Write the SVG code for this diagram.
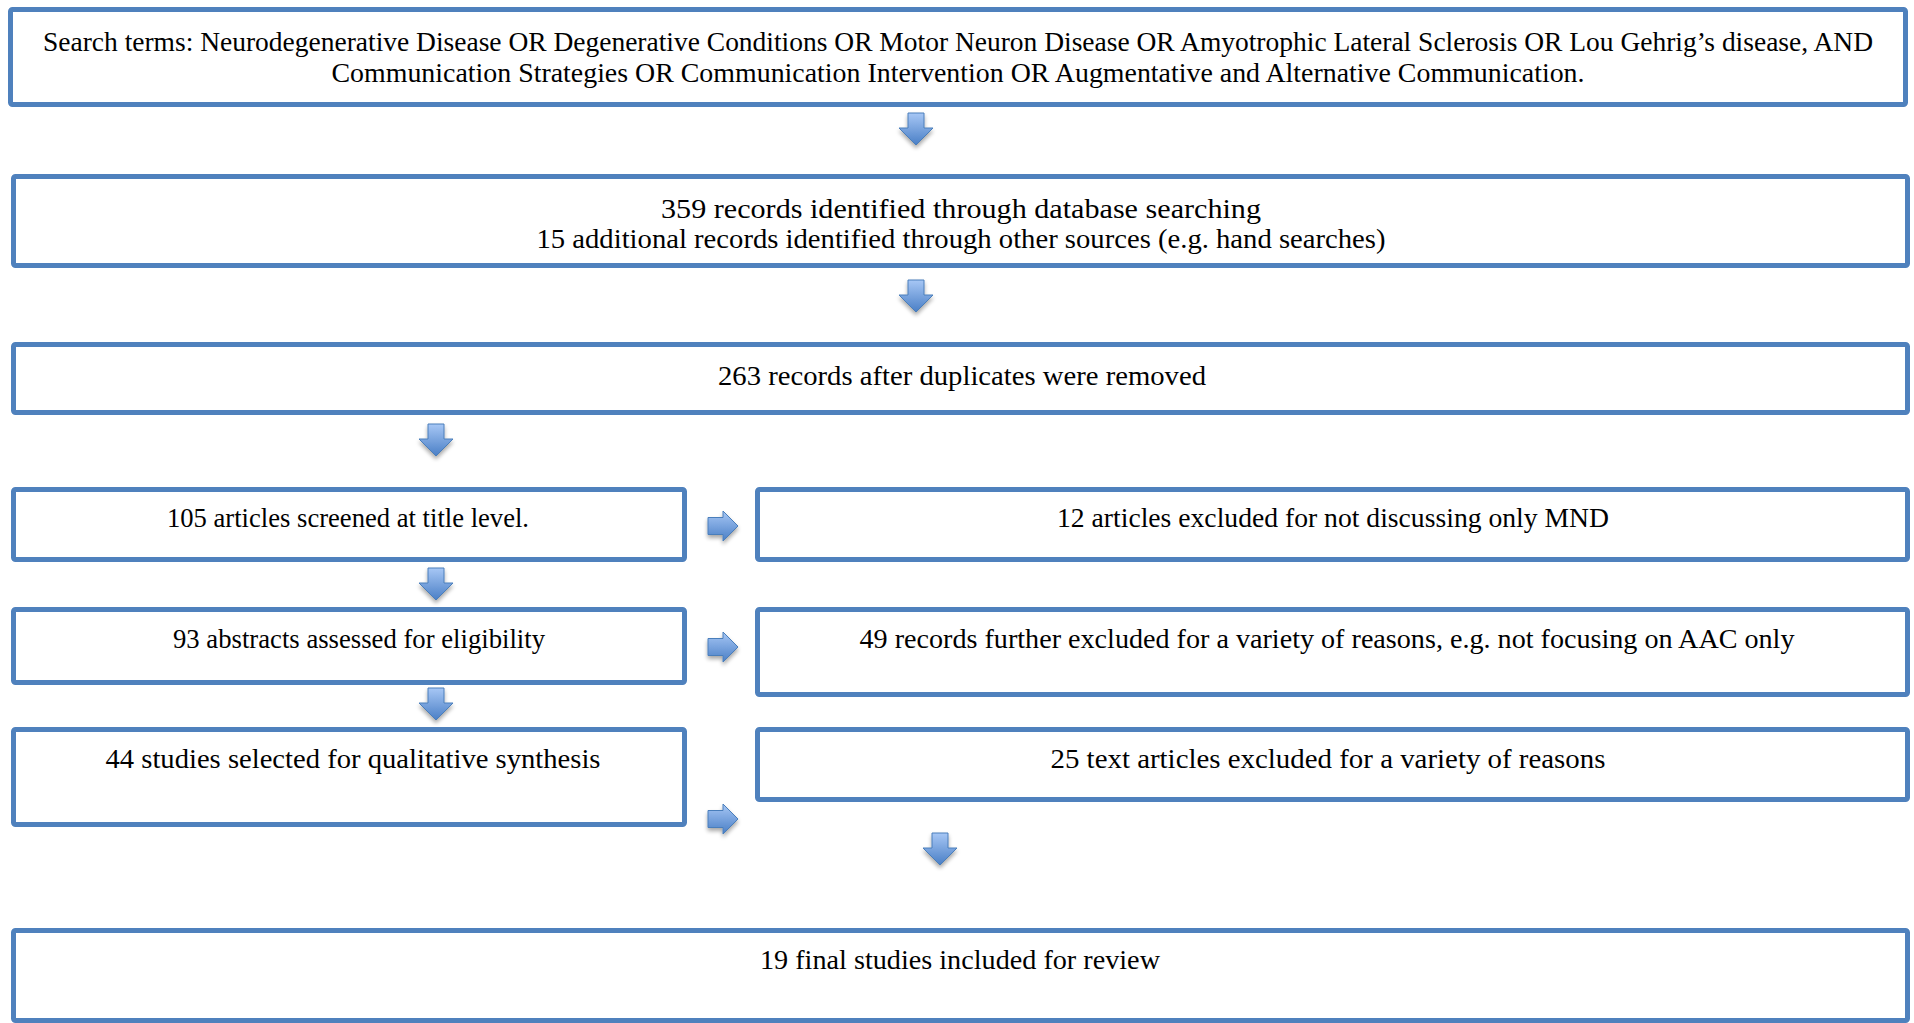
<svg xmlns="http://www.w3.org/2000/svg" width="1914" height="1023" viewBox="0 0 1914 1023">
<style>
.box{fill:#ffffff;stroke:#4f81bd;stroke-width:5}
.t{font-family:"Liberation Serif","DejaVu Serif",serif;font-size:27px;fill:#000000}
.c{text-anchor:middle}
.arr{fill:url(#g);stroke:#4a7ebb;stroke-width:1;filter:url(#sh)}
</style>
<defs>
<linearGradient id="g" x1="0" y1="0" x2="0" y2="1">
<stop offset="0" stop-color="#a7c7f5"/>
<stop offset="1" stop-color="#4a7fc6"/>
</linearGradient>
<filter id="sh" x="-50%" y="-50%" width="200%" height="200%">
<feGaussianBlur in="SourceAlpha" stdDeviation="2"/>
<feOffset dx="0" dy="3" result="b"/>
<feComponentTransfer><feFuncA type="linear" slope="0.35"/></feComponentTransfer>
<feMerge><feMergeNode/><feMergeNode in="SourceGraphic"/></feMerge>
</filter>
<path id="down" d="M-8,0 H8 V15 H17 L0,32 L-17,15 H-8 Z"/>
<path id="right" d="M0,-8.5 H15 V-15 L30,0 L15,15 V8.5 H0 Z"/>
</defs>
<rect width="1914" height="1023" fill="#ffffff"/>

<g id="n1">
<rect class="box" x="10.5" y="9.5" width="1895" height="95" rx="2"/>
<text class="t c" x="958" y="51" textLength="1830" lengthAdjust="spacingAndGlyphs">Search terms: Neurodegenerative Disease OR Degenerative Conditions OR Motor Neuron Disease OR Amyotrophic Lateral Sclerosis OR Lou Gehrig’s disease, AND</text>
<text class="t c" x="958" y="82" textLength="1253" lengthAdjust="spacingAndGlyphs">Communication Strategies OR Communication Intervention OR Augmentative and Alternative Communication.</text>
</g>

<g id="n2">
<rect class="box" x="13.5" y="176.5" width="1894" height="89" rx="2"/>
<text class="t c" x="961" y="218" textLength="600" lengthAdjust="spacingAndGlyphs">359 records identified through database searching</text>
<text class="t c" x="961" y="248" textLength="849" lengthAdjust="spacingAndGlyphs">15 additional records identified through other sources (e.g. hand searches)</text>
</g>

<g id="n3">
<rect class="box" x="13.5" y="344.5" width="1894" height="68" rx="2"/>
<text class="t c" x="962" y="385" textLength="488" lengthAdjust="spacingAndGlyphs">263 records after duplicates were removed</text>
</g>

<g id="n4">
<rect class="box" x="13.5" y="489.5" width="671" height="70" rx="2"/>
<text class="t c" x="348" y="527" textLength="362" lengthAdjust="spacingAndGlyphs">105 articles screened at title level.</text>
</g>

<g id="n5">
<rect class="box" x="757.5" y="489.5" width="1150" height="70" rx="2"/>
<text class="t c" x="1333" y="527" textLength="552" lengthAdjust="spacingAndGlyphs">12 articles excluded for not discussing only MND</text>
</g>

<g id="n6">
<rect class="box" x="13.5" y="609.5" width="671" height="73" rx="2"/>
<text class="t c" x="359" y="648" textLength="372" lengthAdjust="spacingAndGlyphs">93 abstracts assessed for eligibility</text>
</g>

<g id="n7">
<rect class="box" x="757.5" y="609.5" width="1150" height="85" rx="2"/>
<text class="t c" x="1327" y="648" textLength="935" lengthAdjust="spacingAndGlyphs">49 records further excluded for a variety of reasons, e.g. not focusing on AAC only</text>
</g>

<g id="n8">
<rect class="box" x="13.5" y="729.5" width="671" height="95" rx="2"/>
<text class="t c" x="353" y="768" textLength="495" lengthAdjust="spacingAndGlyphs">44 studies selected for qualitative synthesis</text>
</g>

<g id="n9">
<rect class="box" x="757.5" y="729.5" width="1150" height="70" rx="2"/>
<text class="t c" x="1328" y="768" textLength="555" lengthAdjust="spacingAndGlyphs">25 text articles excluded for a variety of reasons</text>
</g>

<g id="n10">
<rect class="box" x="13.5" y="930.5" width="1894" height="90" rx="2"/>
<text class="t c" x="960" y="969" textLength="400" lengthAdjust="spacingAndGlyphs">19 final studies included for review</text>
</g>

<g id="connectors">
<use href="#down" class="arr" x="916" y="113"/>
<use href="#down" class="arr" x="916" y="280"/>
<use href="#down" class="arr" x="436" y="424"/>
<use href="#down" class="arr" x="436" y="568"/>
<use href="#down" class="arr" x="436" y="688"/>
<use href="#down" class="arr" x="940" y="833"/>
<use href="#right" class="arr" x="708" y="526"/>
<use href="#right" class="arr" x="708" y="647"/>
<use href="#right" class="arr" x="708" y="819"/>
</g>
</svg>
